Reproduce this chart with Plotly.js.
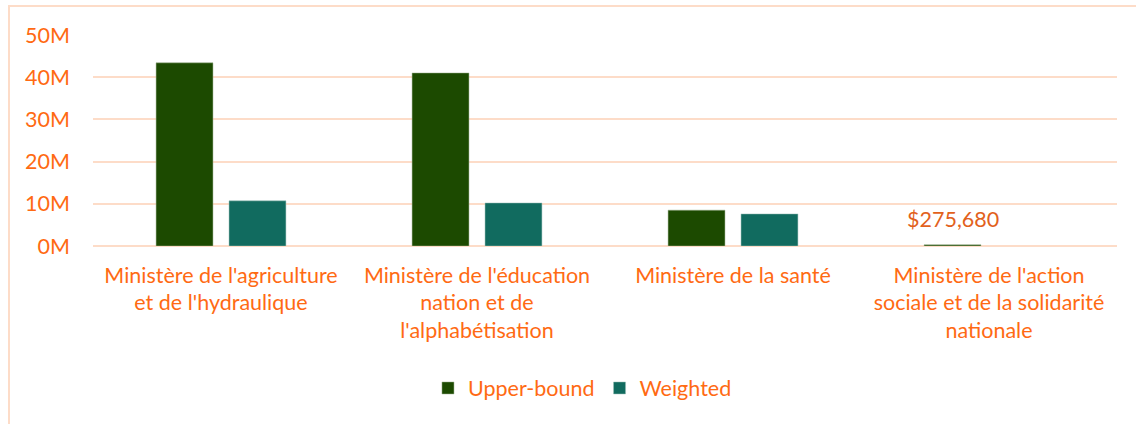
<!DOCTYPE html>
<html>
<head>
<meta charset="utf-8">
<script src="https://cdn.plot.ly/plotly-3.0.1.min.js"></script>
<style>
  html, body { margin: 0; padding: 0; background: #fff; }
  #frame { position: absolute; left: 8px; top: 5px; width: 1140px; height: 430px;
           border-left: 2px solid #FDDCC8; border-top: 2px solid #FDDCC8; pointer-events: none; }
  #chart { width: 1136px; height: 424px; }
</style>
</head>
<body>
<div id="chart"></div>
<div id="frame"></div>
<script>
const categories = [
  "Ministère de l'agriculture<br>et de l'hydraulique",
  "Ministère de l'éducation<br>nation et de<br>l'alphabétisation",
  "Ministère de la santé",
  "Ministère de l'action<br>sociale et de la solidarité<br>nationale"
];
const upperBound = [43.4e6, 41.0e6, 8.5e6, 275680];
const weighted = [10.7e6, 10.2e6, 7.6e6, null];
const labelIndex = 3;
const labelText = "$275,680";
const yTickVals = [0, 10e6, 20e6, 30e6, 40e6, 50e6];
const yTickText = ["0M", "10M", "20M", "30M", "40M", "50M"];

const orange = "#FF6A13";
const font = "Lato, 'Open Sans', sans-serif";
const fs = 21.5;

const traces = [
  {
    type: "bar", name: "Upper-bound", x: categories, y: upperBound,
    marker: { color: "#1C4A00", line: { color: "#9DB08F", width: 0.5 } }
  },
  {
    type: "bar", name: "Weighted", x: categories, y: weighted,
    marker: { color: "#116B5F", line: { color: "#9DC0B8", width: 0.5 } }
  }
];

const layout = {
  width: 1136, height: 424,
  margin: { l: 93, r: 19, t: 35, b: 178 },
  paper_bgcolor: "#fff", plot_bgcolor: "#fff",
  font: { family: font, color: orange, size: fs },
  barmode: "group", bargap: 0.43, bargroupgap: 0.22,
  showlegend: true,
  legend: {
    orientation: "h", x: 0.478, xanchor: "center", y: -0.673, yanchor: "middle",
    font: { size: fs, color: orange, family: font }, itemwidth: 30, traceorder: "normal"
  },
  annotations: [{
    x: categories[labelIndex], y: upperBound[labelIndex], xref: "x", yref: "y",
    text: labelText, showarrow: false, xshift: -36.5, yshift: 26,
    font: { size: fs, color: "#E2611C", family: font }
  }],
  xaxis: {
    type: "category", showgrid: false, showline: false, zeroline: false, ticks: "",
    tickfont: { size: fs, color: orange, family: font }, tickangle: 0,
    ticklabelstandoff: 14
  },
  yaxis: {
    range: [0, 50e6], tickvals: yTickVals, ticktext: yTickText,
    showgrid: true, gridcolor: "#FDDCC8", gridwidth: 2,
    zeroline: true, zerolinecolor: "#FDDCC8", zerolinewidth: 2,
    showline: false, ticks: "", ticklabelstandoff: 22,
    tickfont: { size: fs, color: orange, family: font }
  }
};

Plotly.newPlot("chart", traces, layout, { displayModeBar: false, staticPlot: true });
</script>
</body>
</html>
